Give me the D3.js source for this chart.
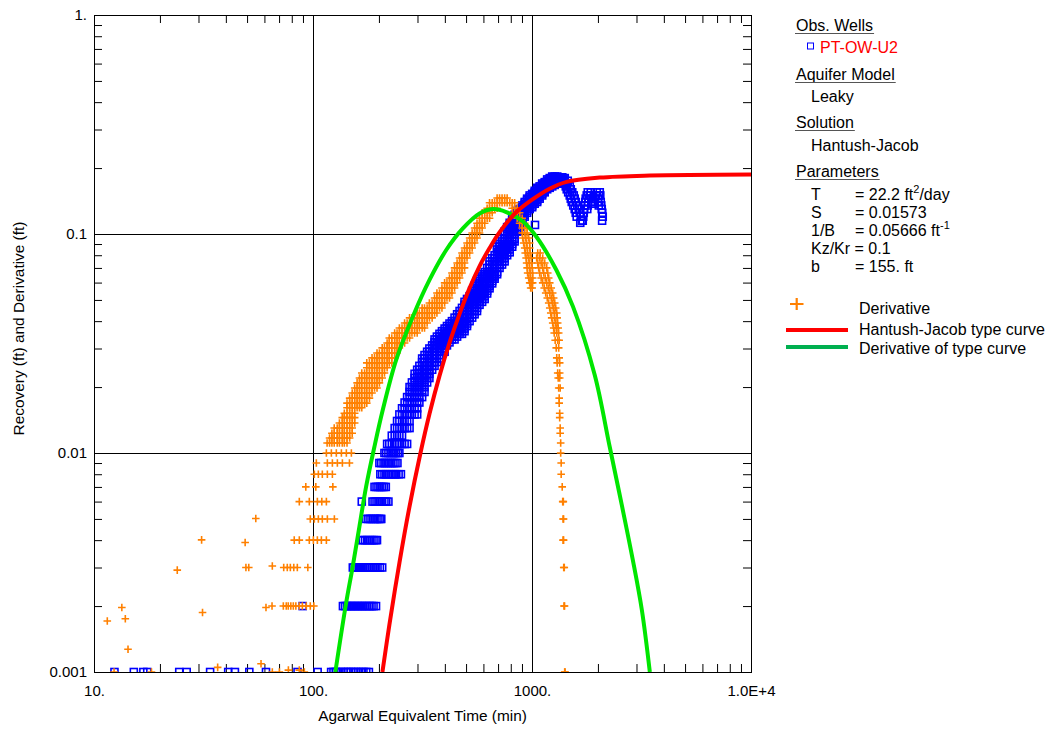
<!DOCTYPE html>
<html>
<head>
<meta charset="utf-8">
<script src="https://cdn.jsdelivr.net/npm/d3@7"></script>
<style>
  body { margin: 0; background: #ffffff; }
  svg { display: block; font-family: Arial, "Liberation Sans", sans-serif; }
</style>
</head>
<body>
<svg id="chart" width="1052" height="731"></svg>
<script>
// ---- Axis definitions ----
const xTickValues = [10, 100, 1000, 10000];
const xTickLabels = ["10.", "100.", "1000.", "1.0E+4"];
const yTickValues = [0.001, 0.01, 0.1, 1];
const yTickLabels = ["0.001", "0.01", "0.1", "1."];
const xGridValues = [100, 1000];
const yGridValues = [0.01, 0.1];

// ---- Observation well PT-OW-U2: [recovery (ft), times (min) recorded at that level] ----
const obsLevels = [
  [0.001, [12.4, 15.2, 16.8, 17.5, 24.5, 26.5, 33.9, 41.0, 44.0, 51.2, 61.0, 85.0, 105, 121, 124, 127, 130, 134, 138, 142, 145, 149, 153, 157, 161, 166, 170, 175, 180]],
  [0.002, [89.7, 137, 140, 143, 146, 149, 152, 155, 159, 162, 166, 169, 173, 177, 181, 185, 189, 194]],
  [0.003, [152, 155, 159, 162, 166, 169, 173, 177, 181, 185, 189, 193, 197, 202, 207]],
  [0.004, [166, 169, 173, 177, 181, 185, 189, 193, 196]],
  [0.005, [175, 179, 183, 187, 191, 195, 199, 203, 205]],
  [0.006, [167, 187, 191, 195, 199, 203, 207, 212, 216, 221]],
  [0.007, [191, 195, 199, 203, 207, 211, 215]],
  [0.008, [203, 207, 212, 216, 221, 226, 231, 236, 240, 246, 252]],
  [0.009, [201, 205, 210, 214, 219, 223, 228, 233, 238, 243]],
  [0.010, [212, 216, 221, 226, 231, 235, 239, 244, 248]],
  [0.011, [218, 223, 229, 236, 242, 248, 255, 262, 269]],
  [0.012, [229, 236, 242, 248, 255]],
  [0.013, [236, 242, 248, 255, 262, 269, 276]],
  [0.014, [242, 248, 255, 262, 269, 276]],
  [0.015, [248, 255, 262, 269, 276, 283, 291, 299]],
  [0.016, [255, 262, 269, 276, 283, 291, 299]],
  [0.017, [262, 269, 276, 283, 291, 299, 306]],
  [0.018, [269, 276, 283, 291, 299, 306, 315]],
  [0.019, [276, 283, 291, 299, 306, 315, 323]],
  [0.020, [276, 283, 291, 299, 306, 315, 323]],
  [0.021, [283, 291, 299, 306, 315, 323, 332]],
  [0.022, [291, 299, 306, 315, 323, 332, 340]],
  [0.023, [291, 299, 306, 315, 323, 332, 340]],
  [0.024, [299, 306, 315, 323, 332, 340, 350]],
  [0.025, [306, 315, 323, 332, 340, 350, 359]],
  [0.026, [315, 323, 332, 340, 350, 359, 368]],
  [0.027, [315, 323, 332, 340, 350, 359, 368, 378]],
  [0.028, [323, 332, 340, 350, 359, 368, 378]],
  [0.029, [332, 340, 350, 359, 368, 378, 388, 399]],
  [0.030, [340, 350, 359, 368, 378, 388, 399]],
  [0.031, [350, 359, 368, 378, 388, 399, 409]],
  [0.032, [359, 368, 378, 388, 399, 409, 420]],
  [0.033, [359, 368, 378, 388, 399, 409, 420, 431, 443]],
  [0.034, [368, 378, 388, 399, 409, 420, 431, 443, 455]],
  [0.035, [378, 388, 399, 409, 420, 431, 443, 455, 467, 479]],
  [0.036, [388, 399, 409, 420, 431, 443, 455, 467, 479, 492]],
  [0.037, [399, 409, 420, 431, 443, 455, 467, 479, 492]],
  [0.038, [409, 420, 431, 443, 455, 467, 479, 492, 505]],
  [0.039, [420, 431, 443, 455, 467, 479, 492, 505]],
  [0.040, [431, 443, 455, 467, 479, 492, 505, 519]],
  [0.0415, [443, 455, 467, 479, 492, 505, 519, 533]],
  [0.043, [455, 467, 479, 492, 505, 519, 533, 547]],
  [0.0445, [467, 479, 492, 505, 519, 533, 547, 561]],
  [0.046, [479, 492, 505, 519, 533, 547, 561]],
  [0.0475, [492, 505, 519, 533, 547, 561, 576]],
  [0.049, [492, 505, 519, 533, 547, 561, 576, 592]],
  [0.0505, [505, 519, 533, 547, 561, 576, 592, 608]],
  [0.052, [519, 533, 547, 561, 576, 592, 608]],
  [0.0535, [533, 547, 561, 576, 592, 608, 624]],
  [0.055, [533, 547, 561, 576, 592, 608, 624]],
  [0.0565, [547, 561, 576, 592, 608, 624, 640]],
  [0.058, [547, 561, 576, 592, 608, 624, 640]],
  [0.0595, [561, 576, 592, 608, 624, 640, 658]],
  [0.061, [561, 576, 592, 608, 624, 640, 658]],
  [0.0625, [576, 592, 608, 624, 640, 658, 675]],
  [0.064, [592, 608, 624, 640, 658, 675]],
  [0.0655, [592, 608, 624, 640, 658, 675, 693]],
  [0.067, [608, 624, 640, 658, 675, 693]],
  [0.070, [624, 640, 658, 675, 693, 711]],
  [0.0725, [640, 658, 675, 693, 711, 730]],
  [0.075, [640, 658, 675, 693, 711, 730, 750]],
  [0.0775, [658, 675, 693, 711, 730, 750]],
  [0.080, [675, 693, 711, 730, 750, 770]],
  [0.0825, [693, 711, 730, 750, 770, 791]],
  [0.085, [693, 711, 730, 750, 770, 791]],
  [0.0875, [693, 711, 730, 750, 770, 791, 812]],
  [0.090, [711, 730, 750, 770, 791, 812]],
  [0.0925, [730, 750, 770, 791, 812, 833]],
  [0.095, [730, 750, 770, 791, 812, 833]],
  [0.100, [750, 770, 791, 812, 833]],
  [0.1025, [750, 770, 791, 812, 833, 856]],
  [0.105, [770, 791, 812, 833, 856]],
  [0.1075, [770, 791, 812, 833, 856, 878]],
  [0.110, [791, 812, 833, 856, 878, 1032]],
  [0.1125, [791, 812, 833, 856, 878, 902, 1661]],
  [0.115, [812, 833, 856, 878, 902, 1687, 1705, 2090]],
  [0.1175, [812, 833, 856, 878, 902]],
  [0.120, [833, 856, 878, 902, 926, 1600, 1670, 1714, 2104]],
  [0.1225, [833, 856, 878, 902, 926]],
  [0.125, [856, 878, 902, 926, 950, 1584, 1652, 1723, 2093]],
  [0.1275, [856, 878, 902, 926, 950]],
  [0.130, [878, 902, 926, 950, 976, 1567, 1635, 1732, 1788, 2082]],
  [0.1325, [902, 926, 950, 976, 1002]],
  [0.135, [902, 926, 950, 976, 1002, 1543, 1609, 1741, 1797, 2018, 2071]],
  [0.1375, [926, 950, 976, 1002, 1029, 1904]],
  [0.140, [926, 950, 976, 1002, 1029, 1056, 1519, 1584, 1750, 1807, 1865, 1934, 1996, 2060]],
  [0.1425, [950, 976, 1002, 1029, 1056]],
  [0.145, [950, 976, 1002, 1029, 1056, 1084, 1503, 1567, 1759, 1816, 1865, 1944, 2008]],
  [0.1475, [976, 1002, 1029, 1056, 1084]],
  [0.150, [976, 1002, 1029, 1056, 1084, 1113, 1487, 1551, 1778, 1835, 1955, 2018, 2050]],
  [0.1525, [1002, 1029, 1056, 1084, 1113]],
  [0.155, [1029, 1056, 1084, 1113, 1143, 1463, 1527, 1797, 1855, 1975, 2039]],
  [0.1575, [1029, 1056, 1084, 1113, 1143]],
  [0.160, [1056, 1084, 1113, 1143, 1173, 1441, 1503]],
  [0.1625, [1056, 1084, 1113, 1143, 1173, 1205]],
  [0.165, [1084, 1113, 1143, 1173, 1205, 1237, 1426, 1487]],
  [0.1675, [1113, 1143, 1173, 1205, 1237, 1270]],
  [0.170, [1113, 1143, 1173, 1205, 1237, 1270, 1304, 1374, 1411, 1448]],
  [0.1725, [1143, 1173, 1205, 1237, 1270, 1304, 1338]],
  [0.175, [1173, 1205, 1237, 1270, 1304, 1338, 1374, 1396, 1456]],
  [0.1775, [1173, 1205, 1237, 1270, 1304, 1338, 1374, 1411]],
  [0.180, [1205, 1237, 1270, 1304, 1338, 1374, 1411]],
  [0.1815, [1237, 1270, 1304, 1338, 1374]],
  [0.183, [1237, 1270, 1304]]
];

// ---- Derivative of recovery: isolated early values [time (min), derivative (ft)] ----
const derivEarly = [
  [11.5, 0.00171], [13.4, 0.00197], [13.9, 0.00175], [14.3, 0.00127],
  [24.0, 0.00292], [31.0, 0.00401], [31.3, 0.00187], [49.0, 0.0039],
  [54.8, 0.00502], [49.4, 0.003], [50.9, 0.003], [65.2, 0.00305],
  [61.0, 0.00197], [65.0, 0.002], [57.9, 0.00109], [12.35, 0.001],
  [18.3, 0.001], [36.7, 0.00105], [65.2, 0.001], [70.2, 0.001],
  [77.2, 0.00102], [86.6, 0.00102], [91.3, 0.001]
];

// ---- Derivative grouped by level: [derivative (ft), times (min)] ----
const derivLevels = [
  [0.001, [1410, 1416]],
  [0.002, [73.2, 75.5, 77.1, 79.2, 81.3, 83.5, 86.6, 89.4, 93.2, 97.2, 100.9, 1400, 1408]],
  [0.003, [73.5, 76.3, 78.8, 81.7, 84.8, 94.7, 1396, 1404]],
  [0.004, [82.1, 86.6, 96.2, 100.4, 104.7, 109.2, 115.1, 1386, 1394]],
  [0.005, [97.2, 101.4, 105.8, 110.3, 116.3, 125.2, 1386, 1394]],
  [0.006, [86.6, 96.2, 104.7, 109.7, 115.1, 1381, 1390]],
  [0.007, [92.7, 103.0, 123.2, 1374]],
  [0.008, [101.4, 105.8, 110.3, 116.3, 122.6, 1359]],
  [0.009, [103.6, 116.3, 122.6, 129.2, 136.2, 146.7, 1359]],
  [0.010, [115.1, 121.3, 127.8, 134.8, 142.0, 149.7, 1352]],
  [0.0111, [116, 119, 122, 125, 129, 132, 136, 139, 143, 1352]],
  [0.0117, [119, 122, 125, 129, 132, 136, 139, 143, 147]],
  [0.0123, [122, 125, 129, 132, 136, 139, 143, 147, 151, 1345]],
  [0.0130, [125, 129, 132, 136, 139, 143, 147, 151, 1345]],
  [0.0137, [132, 136, 139, 143, 147, 151, 155]],
  [0.0145, [136, 139, 143, 147, 151, 155, 1338]],
  [0.0152, [139, 143, 147, 151, 155, 1338]],
  [0.0161, [143, 147, 151, 155, 159, 163, 167]],
  [0.0169, [143, 147, 151, 155, 159, 163, 167, 172, 176, 1331]],
  [0.0178, [147, 151, 155, 159, 163, 167, 172, 176, 181, 1331]],
  [0.0188, [151, 155, 159, 163, 167, 172, 176, 181, 186]],
  [0.0198, [155, 159, 163, 167, 172, 176, 181, 186, 191, 196, 1324, 1345]],
  [0.0209, [159, 163, 167, 172, 176, 181, 186, 191, 196, 201]],
  [0.0220, [163, 167, 172, 176, 181, 186, 191, 196, 201, 207, 1317, 1338]],
  [0.0232, [167, 172, 176, 181, 186, 191, 196, 201, 207, 212, 1310, 1338]],
  [0.0245, [176, 181, 186, 191, 196, 201, 207, 212, 218]],
  [0.0258, [176, 181, 186, 191, 196, 201, 207, 212, 218, 223, 229, 1303, 1338]],
  [0.0272, [186, 191, 196, 201, 207, 212, 218, 223, 229, 236, 1297, 1331]],
  [0.0286, [196, 201, 207, 212, 218, 223, 229, 236, 242]],
  [0.0302, [207, 212, 218, 223, 229, 236, 242, 248, 1290, 1324]],
  [0.0318, [218, 223, 229, 236, 242, 248, 255, 262]],
  [0.0327, [1276, 1310, 1331]],
  [0.0335, [223, 229, 236, 242, 248, 255, 262, 269, 276]],
  [0.0353, [236, 242, 248, 255, 262, 269, 276, 283, 291, 299, 1263, 1297, 1324]],
  [0.0372, [248, 255, 262, 269, 276, 283, 291, 299, 306, 315, 323, 1256, 1290, 1317]],
  [0.0392, [262, 269, 276, 283, 291, 299, 306, 315, 323, 332, 1243, 1283, 1310]],
  [0.0414, [276, 283, 291, 299, 306, 315, 323, 332, 340, 350, 1230, 1270, 1303]],
  [0.0436, [299, 306, 315, 323, 332, 340, 350, 359, 368, 1218, 1263, 1297]],
  [0.0459, [315, 323, 332, 340, 350, 359, 368, 378, 388, 1205, 1250, 1283]],
  [0.0484, [340, 350, 359, 368, 378, 388, 399, 1192, 1237, 1270]],
  [0.0510, [359, 368, 378, 388, 399, 409, 420, 1174, 1224, 1256]],
  [0.0538, [368, 378, 388, 399, 409, 420, 431, 1155, 1205, 1243]],
  [0.0567, [388, 399, 409, 420, 431, 443, 986, 1002, 1137, 1186, 1224]],
  [0.0598, [399, 409, 420, 431, 443, 455, 976, 992, 1007, 1119, 1167, 1205]],
  [0.0630, [420, 431, 443, 455, 467, 966, 986, 1007, 1101, 1149, 1192]],
  [0.0664, [431, 443, 455, 467, 479, 955, 981, 1007, 1084, 1131, 1180]],
  [0.0700, [443, 455, 467, 479, 492, 950, 976, 1002, 1073, 1119, 1167]],
  [0.0737, [455, 467, 479, 492, 945, 971, 997, 1062, 1101, 1143]],
  [0.0777, [467, 479, 492, 505, 940, 966, 992, 1050, 1084, 1119]],
  [0.0819, [479, 492, 505, 519, 931, 955, 981, 1062, 1090]],
  [0.0863, [492, 505, 519, 533, 926, 950, 976]],
  [0.0910, [505, 519, 533, 547, 916, 945, 976]],
  [0.0959, [519, 533, 547, 561, 907, 936, 966]],
  [0.101, [533, 547, 561, 576, 902, 926, 950]],
  [0.1065, [547, 561, 576, 592, 902, 926, 950]],
  [0.112, [561, 576, 592, 608, 878, 902, 926]],
  [0.118, [576, 592, 608, 624, 640, 856, 878, 902]],
  [0.125, [592, 608, 624, 640, 658, 833, 856, 878]],
  [0.131, [624, 640, 658, 675, 693, 812, 833, 856]],
  [0.139, [640, 658, 675, 693, 711, 730, 750, 770, 791, 812, 833]],
  [0.146, [693, 711, 730, 750, 770]]
];

// ---- Hantush-Jacob type curve ----
const typeCurveTime = [207.5, 223.4, 248.2, 275.7, 309.6, 340.4, 378.1, 420.2, 466.9, 518.7, 576.4, 640.4, 711.4, 842, 997, 1204, 1440, 2039, 3452, 10000];
const typeCurveValue = [0.001, 0.00165, 0.00316, 0.00568, 0.0100, 0.0151, 0.0225, 0.0319, 0.0432, 0.0567, 0.0714, 0.0863, 0.102, 0.125, 0.143, 0.161, 0.173, 0.181, 0.185, 0.187];

// ---- Derivative of the type curve ----
const derivCurveTime = [126.5, 141.6, 151.8, 162.9, 174.8, 190.8, 208.2, 239.8, 285.5, 340.4, 405.9, 483.4, 576.3, 663, 763, 909, 1047, 1292, 1539, 1934, 2265, 2570, 2886, 3174, 3452];
const derivCurveValue = [0.001, 0.00206, 0.00303, 0.00461, 0.00702, 0.0107, 0.0157, 0.0266, 0.0419, 0.0617, 0.0845, 0.106, 0.124, 0.130, 0.126, 0.114, 0.0972, 0.0685, 0.0466, 0.0227, 0.01065, 0.00579, 0.00325, 0.00192, 0.001];

// ---- Colours ----
const obsColor = "#0000ff";
const derivColor = "#ff8000";
const typeColor = "#ff0000";
const derivCurveColor = "#00e600";
const derivCurveKeyColor = "#00b050";

// ---- Layout ----
const plot = { left: 94, right: 751, top: 15, bottom: 672 };
const svg = d3.select("#chart");

const x = d3.scaleLog().domain([10, 10000]).range([plot.left, plot.right]);
const y = d3.scaleLog().domain([0.001, 1]).range([plot.bottom, plot.top]);

svg.append("defs").append("clipPath").attr("id", "plot-clip")
  .append("rect")
  .attr("x", plot.left).attr("y", plot.top)
  .attr("width", plot.right - plot.left + 1).attr("height", plot.bottom - plot.top + 1);

// Grid lines at the decades
svg.append("g")
  .attr("transform", `translate(0,${plot.bottom})`)
  .call(d3.axisBottom(x).tickValues(xGridValues).tickSize(-(plot.bottom - plot.top)).tickFormat(""))
  .call(g => g.select(".domain").remove())
  .selectAll("line").attr("stroke", "#000");
svg.append("g")
  .attr("transform", `translate(${plot.left},0)`)
  .call(d3.axisLeft(y).tickValues(yGridValues).tickSize(-(plot.right - plot.left)).tickFormat(""))
  .call(g => g.select(".domain").remove())
  .selectAll("line").attr("stroke", "#000");

// Minor ticks pointing inward on all four sides
const isDecade = v => Math.abs(Math.log10(v) - Math.round(Math.log10(v))) < 1e-6;
const minorX = x.ticks().filter(v => !isDecade(v));
const minorY = y.ticks().filter(v => !isDecade(v));
const tickLen = 8;
function minorAxis(axisFn, scale, values, transform) {
  svg.append("g").attr("transform", transform)
    .call(axisFn(scale).tickValues(values).tickSize(-tickLen).tickFormat(""))
    .call(g => g.select(".domain").remove())
    .selectAll("line").attr("stroke", "#000");
}
minorAxis(d3.axisBottom, x, minorX, `translate(0,${plot.bottom})`);
minorAxis(d3.axisTop, x, minorX, `translate(0,${plot.top})`);
minorAxis(d3.axisLeft, y, minorY, `translate(${plot.left},0)`);
minorAxis(d3.axisRight, y, minorY, `translate(${plot.right},0)`);

// Tick labels
svg.append("g")
  .attr("transform", `translate(0,${plot.bottom})`)
  .call(d3.axisBottom(x).tickValues(xTickValues).tickSize(0).tickPadding(13)
    .tickFormat((d, i) => xTickLabels[i]))
  .call(g => g.select(".domain").remove())
  .selectAll("text").attr("font-size", 15).attr("font-family", "Arial, 'Liberation Sans', sans-serif").attr("fill", "#000");
svg.append("g")
  .attr("transform", `translate(${plot.left},0)`)
  .call(d3.axisLeft(y).tickValues(yTickValues).tickSize(0).tickPadding(7)
    .tickFormat((d, i) => yTickLabels[i]))
  .call(g => g.select(".domain").remove())
  .selectAll("text").attr("font-size", 15).attr("font-family", "Arial, 'Liberation Sans', sans-serif").attr("fill", "#000");

// Axis titles
svg.append("text")
  .attr("x", (plot.left + plot.right) / 2).attr("y", 721)
  .attr("text-anchor", "middle").attr("font-size", 15.4)
  .text("Agarwal Equivalent Time (min)");
svg.append("text")
  .attr("transform", `translate(24,${(plot.top + plot.bottom) / 2 - 15}) rotate(-90)`)
  .attr("text-anchor", "middle").attr("font-size", 15.4)
  .text("Recovery (ft) and Derivative (ft)");

// Data layer (clipped to the plot area)
const layer = svg.append("g").attr("clip-path", "url(#plot-clip)");

const obsPoints = obsLevels.flatMap(([v, times]) => times.map(t => [t, v]));
const derivPoints = derivEarly.concat(derivLevels.flatMap(([v, times]) => times.map(t => [t, v])));

const sq = 7;
layer.append("g").selectAll("rect").data(obsPoints).join("rect")
  .attr("x", d => x(d[0]) - sq / 2).attr("y", d => y(d[1]) - sq / 2)
  .attr("width", sq).attr("height", sq)
  .attr("fill", "none").attr("stroke", obsColor).attr("stroke-width", 1.6);

const arm = 3.8;
layer.append("g").selectAll("path").data(derivPoints).join("path")
  .attr("d", d => {
    const cx = x(d[0]), cy = y(d[1]);
    return `M${cx - arm},${cy}H${cx + arm}M${cx},${cy - arm}V${cy + arm}`;
  })
  .attr("fill", "none").attr("stroke", derivColor).attr("stroke-width", 1.6);

const line = d3.line().x(d => x(d[0])).y(d => y(d[1])).curve(d3.curveCatmullRom.alpha(0.5));

layer.append("path")
  .datum(d3.zip(derivCurveTime, derivCurveValue))
  .attr("d", line).attr("fill", "none")
  .attr("stroke", derivCurveColor).attr("stroke-width", 4);

layer.append("path")
  .datum(d3.zip(typeCurveTime, typeCurveValue))
  .attr("d", line).attr("fill", "none")
  .attr("stroke", typeColor).attr("stroke-width", 4);

// Plot frame
svg.append("rect")
  .attr("x", plot.left + 0.5).attr("y", plot.top + 0.5)
  .attr("width", plot.right - plot.left).attr("height", plot.bottom - plot.top)
  .attr("fill", "none").attr("stroke", "#000").attr("stroke-width", 1);

// ---- Legend / info panel ----
const info = svg.append("g").attr("font-size", 16).attr("fill", "#000");

function heading(label, yBase) {
  const t = info.append("text").attr("x", 796).attr("y", yBase).text(label);
  const w = t.node().getComputedTextLength();
  info.append("line")
    .attr("x1", 795).attr("x2", 796 + w + 1)
    .attr("y1", yBase + 2.5).attr("y2", yBase + 2.5)
    .attr("stroke", "#555").attr("stroke-width", 1);
}

heading("Obs. Wells", 31);
info.append("rect").attr("x", 807.5).attr("y", 43).attr("width", 6).attr("height", 6)
  .attr("fill", "none").attr("stroke", obsColor).attr("stroke-width", 1);
info.append("text").attr("x", 820).attr("y", 53).attr("fill", "#ff0000").text("PT-OW-U2");

heading("Aquifer Model", 80);
info.append("text").attr("x", 811).attr("y", 102).text("Leaky");

heading("Solution", 128);
info.append("text").attr("x", 811).attr("y", 151).text("Hantush-Jacob");

heading("Parameters", 177);

const paramNames = ["T", "S", "1/B", "Kz/Kr", "b"];
const paramValues = ["= 22.2 ft", "= 0.01573", "= 0.05666 ft", "= 0.1", "= 155. ft"];
const paramSup = ["2", "", "-1", "", ""];
const paramTail = ["/day", "", "", "", ""];
const paramBase = [200, 218, 236, 254, 272];

paramNames.forEach((n, i) => {
  if (n === "Kz/Kr") {
    info.append("text").attr("x", 811).attr("y", paramBase[i]).text(n + " " + paramValues[i]);
    return;
  }
  info.append("text").attr("x", 811).attr("y", paramBase[i]).text(n);
  const t = info.append("text").attr("x", 855).attr("y", paramBase[i]);
  t.append("tspan").text(paramValues[i]);
  if (paramSup[i]) {
    t.append("tspan").attr("font-size", 11).attr("dy", -7).text(paramSup[i]);
    if (paramTail[i]) t.append("tspan").attr("dy", 7).text(paramTail[i]);
  }
});

// Series keys
info.append("path")
  .attr("d", "M790,304H803.5M796.7,298V310")
  .attr("stroke", derivColor).attr("stroke-width", 2.2).attr("fill", "none");
info.append("text").attr("x", 859).attr("y", 314).text("Derivative");

info.append("line").attr("x1", 786).attr("x2", 848).attr("y1", 330).attr("y2", 330)
  .attr("stroke", typeColor).attr("stroke-width", 4);
info.append("text").attr("x", 859).attr("y", 335).text("Hantush-Jacob type curve");

info.append("line").attr("x1", 786).attr("x2", 848).attr("y1", 347).attr("y2", 347)
  .attr("stroke", derivCurveKeyColor).attr("stroke-width", 4);
info.append("text").attr("x", 859).attr("y", 354).text("Derivative of type curve");
</script>
</body>
</html>
